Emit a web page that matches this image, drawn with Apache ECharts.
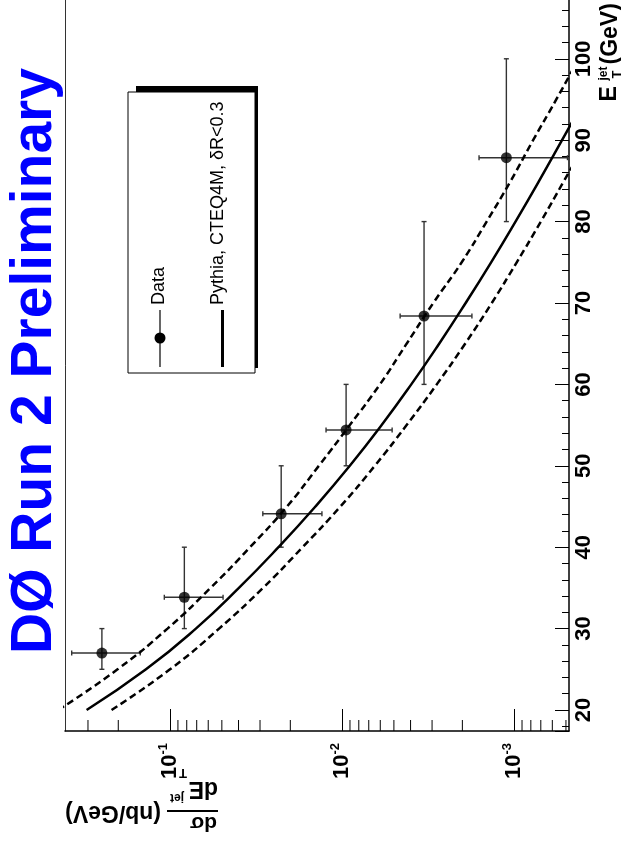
<!DOCTYPE html>
<html>
<head>
<meta charset="utf-8">
<script src="https://cdn.jsdelivr.net/npm/echarts@6/dist/echarts.min.js"></script>
<style>
    html, body { margin: 0; padding: 0; background: #fff; }
    #chart { width: 621px; height: 850px; }
</style>
</head>
<body>
<div id="chart"></div>
<script>
    // measured points: E_T jet (GeV) and dsigma/dE_T (nb/GeV)
    const etData = [27.0, 33.85, 44.1, 54.4, 68.4, 87.85];
    const etLow = [25, 30, 40, 50, 60, 80];
    const etHigh = [30, 40, 50, 60, 80, 100];
    const xsData = [0.249, 0.0826, 0.0226, 0.00948, 0.00334, 0.00111];
    const xsLow = [0.149, 0.0492, 0.0131, 0.00512, 0.00176, 0.00049];
    const xsHigh = [0.373, 0.108, 0.0289, 0.0124, 0.0046, 0.0016];

    // Pythia prediction and the dashed band, read every 5 GeV
    const etCurve = [20, 25, 30, 35, 40, 45, 50, 55, 60, 65, 70, 75, 80, 85, 90, 95, 100];
    const pythia = [0.3055, 0.138, 0.0708, 0.0398, 0.02344, 0.01429, 0.00902, 0.00589, 0.003963,
        0.002729, 0.001914, 0.001361, 0.000982, 0.000716, 0.000527, 0.000389, 0.000288];
    const pythiaUp = [0.4467, 0.2018, 0.1035, 0.0582, 0.0343, 0.0209, 0.01365, 0.00902, 0.00603,
        0.004217, 0.002951, 0.002018, 0.001445, 0.001047, 0.000776, 0.000569, 0.000422];
    const pythiaDown = [0.2188, 0.1, 0.0519, 0.02884, 0.01698, 0.01023, 0.00646, 0.004217, 0.002818,
        0.001928, 0.001349, 0.000966, 0.0007, 0.000513, 0.000376, 0.000275, 0.000204];

    // small ticks of the log axis
    const logMinorTicks = [5e-4, 6e-4, 7e-4, 8e-4, 9e-4,
        2e-3, 3e-3, 4e-3, 5e-3, 6e-3, 7e-3, 8e-3, 9e-3,
        2e-2, 3e-2, 4e-2, 5e-2, 6e-2, 7e-2, 8e-2, 9e-2,
        2e-1, 3e-1];
    const legendLabels = ['Data', 'Pythia, CTEQ4M, \u03b4R<0.3'];
    const titleText = 'D\u00d8 Run 2 Preliminary';

    const FONT = '"Liberation Sans", Arial, Helvetica, sans-serif';
    const bold = (size) => 'bold ' + size + 'px ' + FONT;

    let chart = echarts.init(document.getElementById('chart'));

    let curve = (vals) => etCurve.map((e, i) => [vals[i], e]);
    let points = etData.map((e, i) => [xsData[i], e, xsLow[i], xsHigh[i], etLow[i], etHigh[i]]);

    // axis runs past the top edge of the picture
    const etMin = 17.42, etMax = 108.45;

    let option = {
        animation: false,
        backgroundColor: '#fff',
        textStyle: {fontFamily: FONT},
        grid: {
            left: 65, right: 52, top: -10, bottom: 119,
            show: false, containLabel: false, outerBoundsMode: 'none'
        },
        xAxis: {
            type: 'log',
            logBase: 10,
            min: 4.8e-4,
            max: 0.408,
            inverse: true,
            position: 'bottom',
            axisLine: {show: true, lineStyle: {color: '#000', width: 1.5}},
            axisTick: {show: true, inside: true, length: 22, lineStyle: {color: '#000', width: 1}},
            splitLine: {show: false},
            axisLabel: {
                rotate: 90,
                margin: 12,
                showMinLabel: false,
                showMaxLabel: false,
                formatter: function (v) {
                    let p = Math.log10(v)
                    let r = Math.round(p)
                    if (Math.abs(p - r) > 1e-6) return ''
                    return '{b|10}{s|' + r + '}'
                },
                rich: {
                    b: {fontSize: 22, fontWeight: 'bold', fontFamily: FONT, color: '#000', lineHeight: 26},
                    s: {fontSize: 13, fontWeight: 'bold', fontFamily: FONT, color: '#000', verticalAlign: 'top', lineHeight: 13}
                }
            }
        },
        yAxis: [{
            type: 'value',
            position: 'right',
            min: etMin,
            max: etMax,
            splitNumber: 9,
            minInterval: 10,
            maxInterval: 10,
            axisLine: {show: true, onZero: false, lineStyle: {color: '#000', width: 1.5}},
            axisTick: {show: true, inside: true, length: 14, lineStyle: {color: '#000', width: 1}},
            minorTick: {show: true, splitNumber: 5, length: 7, lineStyle: {color: '#000', width: 1}},
            splitLine: {show: false},
            axisLabel: {
                rotate: 90,
                margin: 4,
                fontSize: 22,
                fontWeight: 'bold',
                color: '#000',
                showMinLabel: false,
                showMaxLabel: false,
                formatter: function (v) {
                    return Math.abs(v % 10) < 1e-6 ? String(v) : ''
                }
            }
        }, {
            // left side of the frame
            type: 'value',
            position: 'left',
            min: etMin,
            max: etMax,
            axisLine: {show: true, onZero: false, lineStyle: {color: '#333', width: 1}},
            axisTick: {show: false},
            axisLabel: {show: false},
            splitLine: {show: false}
        }],
        series: [
            {
                // minor ticks of the log axis (2..9 x 10^n)
                type: 'custom',
                silent: true,
                clip: false,
                data: logMinorTicks.map(v => [v, 50]),
                encode: {x: 0, y: 1},
                renderItem: function (params, api) {
                    let pt = api.coord([api.value(0), api.value(1)])
                    let bottom = params.coordSys.y + params.coordSys.height
                    return {
                        type: 'line',
                        shape: {x1: pt[0], y1: bottom, x2: pt[0], y2: bottom - 11},
                        style: {stroke: '#000', lineWidth: 1}
                    }
                }
            },
            {
                name: 'up',
                type: 'line',
                data: curve(pythiaUp),
                showSymbol: false,
                smooth: true,
                clip: true,
                lineStyle: {color: '#000', width: 2.5, type: [7, 4]}
            },
            {
                name: legendLabels[1],
                type: 'line',
                data: curve(pythia),
                showSymbol: false,
                smooth: true,
                clip: true,
                lineStyle: {color: '#000', width: 2.5}
            },
            {
                name: 'down',
                type: 'line',
                data: curve(pythiaDown),
                showSymbol: false,
                smooth: true,
                clip: true,
                lineStyle: {color: '#000', width: 2.5, type: [7, 4]}
            },
            {
                // error bars
                type: 'custom',
                data: points,
                encode: {x: 0, y: 1},
                renderItem: function (params, api) {
                    let x = api.value(0), e = api.value(1)
                    let pLo = api.coord([api.value(2), e])
                    let pHi = api.coord([api.value(3), e])
                    let eLo = api.coord([x, api.value(4)])
                    let eHi = api.coord([x, api.value(5)])
                    let st = {stroke: '#333', lineWidth: 1.4}
                    let c = 2.5
                    return {
                        type: 'group',
                        children: [
                            {type: 'line', shape: {x1: pLo[0], y1: pLo[1], x2: pHi[0], y2: pHi[1]}, style: st},
                            {type: 'line', shape: {x1: pLo[0], y1: pLo[1] - c, x2: pLo[0], y2: pLo[1] + c}, style: st},
                            {type: 'line', shape: {x1: pHi[0], y1: pHi[1] - c, x2: pHi[0], y2: pHi[1] + c}, style: st},
                            {type: 'line', shape: {x1: eLo[0], y1: eLo[1], x2: eHi[0], y2: eHi[1]}, style: st},
                            {type: 'line', shape: {x1: eLo[0] - c, y1: eLo[1], x2: eLo[0] + c, y2: eLo[1]}, style: st},
                            {type: 'line', shape: {x1: eHi[0] - c, y1: eHi[1], x2: eHi[0] + c, y2: eHi[1]}, style: st}
                        ]
                    }
                }
            },
            {
                name: legendLabels[0],
                type: 'scatter',
                data: points.map(p => [p[0], p[1]]),
                symbol: 'circle',
                symbolSize: 11,
                itemStyle: {color: '#000'},
                z: 5
            }
        ],
        graphic: [
            {
                type: 'text', x: 35, y: 654, rotation: Math.PI / 2,
                style: {text: titleText, fill: '#0000ff', font: bold(57), align: 'left', verticalAlign: 'middle'}
            },
            // x title (E_T jet), reads upward
            {
                type: 'group', x: 610, y: 101.5, rotation: Math.PI / 2,
                children: [
                    {type: 'text', x: 0, y: 0, style: {text: 'E', font: bold(23), align: 'left', verticalAlign: 'middle'}},
                    {type: 'text', x: 21, y: -6.5, style: {text: 'jet', font: bold(12), align: 'left', verticalAlign: 'middle'}},
                    {type: 'text', x: 23, y: 7.5, style: {text: 'T', font: bold(13), align: 'left', verticalAlign: 'middle'}},
                    {type: 'text', x: 37, y: 1, style: {text: '(GeV)', font: bold(23), align: 'left', verticalAlign: 'middle'}}
                ]
            },
            // y title, upside down
            {
                type: 'group', x: 218, y: 811, rotation: Math.PI,
                children: [
                    {type: 'line', shape: {x1: 0, y1: 0, x2: 51, y2: 0}, style: {stroke: '#000', lineWidth: 2}},
                    {type: 'text', x: 1, y: -11.5, style: {text: 'd\u03c3', font: bold(21), align: 'left', verticalAlign: 'middle'}},
                    {type: 'text', x: 0, y: 23, style: {text: 'dE', font: bold(23), align: 'left', verticalAlign: 'middle'}},
                    {type: 'text', x: 34, y: 13.5, style: {text: 'jet', font: bold(12), align: 'left', verticalAlign: 'middle'}},
                    {type: 'text', x: 31, y: 38.5, style: {text: 'T', font: bold(13), align: 'left', verticalAlign: 'middle'}},
                    {type: 'text', x: 57, y: -1, style: {text: '(nb/GeV)', font: bold(23), align: 'left', verticalAlign: 'middle'}}
                ]
            },
            // legend with shadow
            {type: 'rect', shape: {x: 136, y: 86, width: 122, height: 282}, style: {fill: '#000'}},
            {type: 'rect', shape: {x: 128, y: 92, width: 127, height: 281}, style: {fill: '#fff', stroke: '#000', lineWidth: 1}},
            {type: 'line', shape: {x1: 160, y1: 310, x2: 160, y2: 367}, style: {stroke: '#000', lineWidth: 1.2}},
            {type: 'circle', shape: {cx: 160, cy: 338, r: 5.5}, style: {fill: '#000'}},
            {
                type: 'text', x: 159, y: 305, rotation: Math.PI / 2,
                style: {text: legendLabels[0], font: '18px ' + FONT, fill: '#000', align: 'left', verticalAlign: 'middle'}
            },
            {type: 'line', shape: {x1: 222.5, y1: 310, x2: 222.5, y2: 367}, style: {stroke: '#000', lineWidth: 3}},
            {
                type: 'text', x: 218, y: 305, rotation: Math.PI / 2,
                style: {text: legendLabels[1], font: '18px ' + FONT, fill: '#000', align: 'left', verticalAlign: 'middle'}
            }
        ]
    };
    chart.setOption(option, true);
</script>
</body>
</html>
